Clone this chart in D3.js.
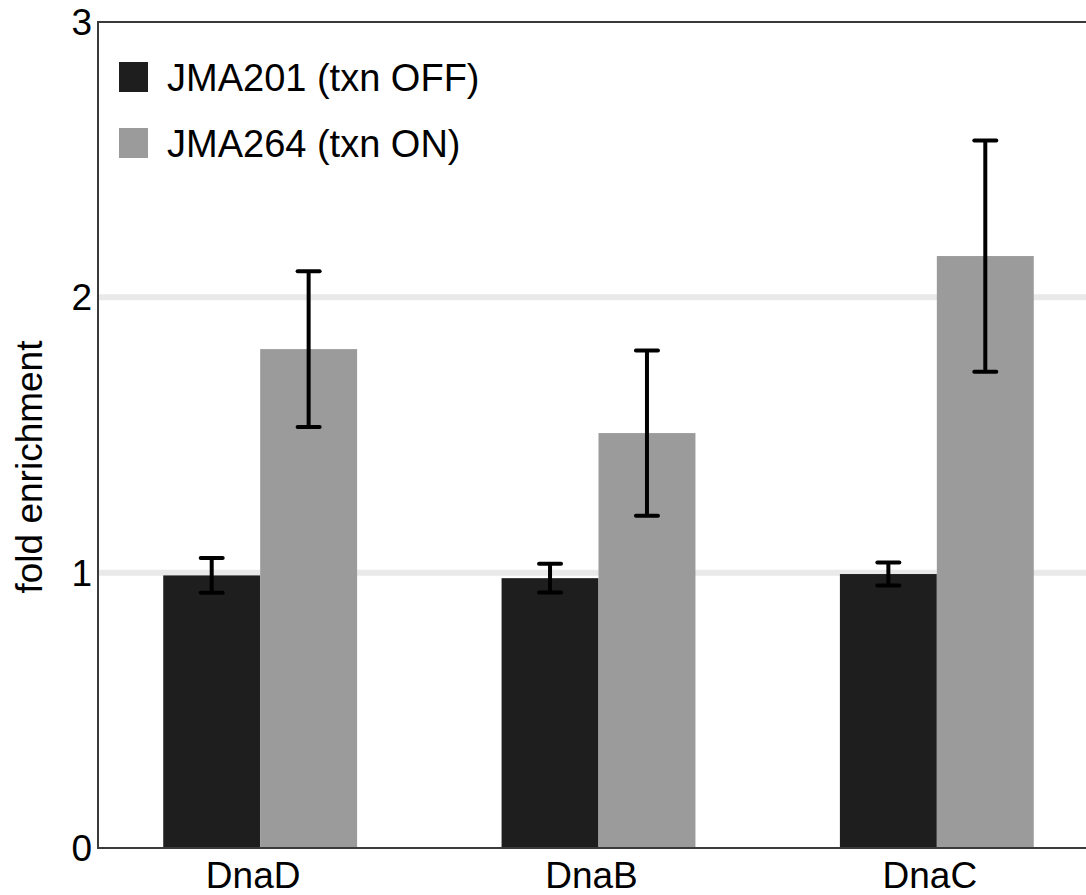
<!DOCTYPE html>
<html>
<head>
<meta charset="utf-8">
<script src="https://cdn.jsdelivr.net/npm/d3@7"></script>
<style>
  body { margin: 0; background: #fff; }
  svg text { font-family: "Liberation Sans", Arial, sans-serif; fill: #000; }
</style>
</head>
<body>
<svg width="1086" height="895"></svg>
<script>
// data
var categories = ['DnaD', 'DnaB', 'DnaC'];
var seriesNames = ['JMA201 (txn OFF)', 'JMA264 (txn ON)'];
var offValues = [0.99, 0.98, 0.995];
var offErrors = [0.063, 0.052, 0.042];
var onValues = [1.812, 1.507, 2.15];
var onErrors = [0.283, 0.30, 0.42];
var yTicks = [0, 1, 2, 3];
var gridValues = [1, 2];

var svg = d3.select('svg'),
  width = +svg.attr('width'),
  height = +svg.attr('height');

// note: "top" is taken by window.top, so use other names
var plotLeft = 98, plotTop = 22, plotBottom = 848;

var colors = ['#1e1e1e', '#9b9b9b'];

var y = d3.scaleLinear().domain([0, 3]).range([plotBottom, plotTop]);

var x = d3.scaleBand()
  .domain(categories)
  .range([91, 1106])
  .paddingInner(0.427)
  .paddingOuter(0.2135);

var xs = d3.scaleBand()
  .domain(seriesNames)
  .range([0, x.bandwidth()]);

var rows = categories.map((c, i) => ({
  cat: c,
  bars: [
    {name: seriesNames[0], value: offValues[i], err: offErrors[i], color: colors[0]},
    {name: seriesNames[1], value: onValues[i], err: onErrors[i], color: colors[1]}
  ]
}));

// grid lines
svg.append('g').selectAll('line')
  .data(gridValues)
  .enter()
  .append('line')
  .attr('x1', plotLeft)
  .attr('x2', width)
  .attr('y1', d => y(d))
  .attr('y2', d => y(d))
  .attr('stroke', '#e9e9e9')
  .attr('stroke-width', 6);

// bars
var groups = svg.selectAll('.grp')
  .data(rows)
  .enter()
  .append('g')
  .attr('class', 'grp')
  .attr('transform', d => `translate(${x(d.cat)},0)`);

groups.selectAll('rect')
  .data(d => d.bars)
  .enter()
  .append('rect')
  .attr('x', d => xs(d.name))
  .attr('y', d => y(d.value))
  .attr('width', xs.bandwidth())
  .attr('height', d => y(0) - y(d.value))
  .attr('fill', d => d.color);

// error bars
var errs = groups.selectAll('.err')
  .data(d => d.bars)
  .enter()
  .append('g')
  .attr('class', 'err')
  .attr('stroke', '#000')
  .attr('stroke-width', 4);

errs.append('line')
  .attr('x1', d => xs(d.name) + xs.bandwidth() / 2)
  .attr('x2', d => xs(d.name) + xs.bandwidth() / 2)
  .attr('y1', d => y(d.value + d.err))
  .attr('y2', d => y(d.value - d.err));

[1, -1].forEach(s => {
  errs.append('line')
    .attr('stroke-linecap', 'round')
    .attr('x1', d => xs(d.name) + xs.bandwidth() / 2 - 11)
    .attr('x2', d => xs(d.name) + xs.bandwidth() / 2 + 11)
    .attr('y1', d => y(d.value + s * d.err))
    .attr('y2', d => y(d.value + s * d.err));
});

// frame: left, top, bottom
svg.append('path')
  .attr('d', `M${width},${plotTop}H${plotLeft}V${plotBottom}H${width}`)
  .attr('fill', 'none')
  .attr('stroke', '#3a3a3a')
  .attr('stroke-width', 2);

// y tick labels
svg.append('g').selectAll('text')
  .data(yTicks)
  .enter()
  .append('text')
  .attr('x', 92)
  .attr('y', d => y(d))
  .attr('dy', '0.35em')
  .attr('text-anchor', 'end')
  .style('font-size', '37px')
  .text(d => d);

// x labels
svg.append('g').selectAll('text')
  .data(categories)
  .enter()
  .append('text')
  .attr('x', d => x(d) + x.bandwidth() / 2 - 7)
  .attr('y', 888)
  .attr('text-anchor', 'middle')
  .style('font-size', '37px')
  .text(d => d);

// y axis title
svg.append('text')
  .attr('transform', 'translate(42,467) rotate(-90)')
  .attr('text-anchor', 'middle')
  .style('font-size', '37px')
  .text('fold enrichment');

// legend
var legend = svg.append('g').selectAll('g')
  .data(seriesNames)
  .enter()
  .append('g')
  .attr('transform', (d, i) => `translate(119, ${62 + i * 66})`);

legend.append('rect')
  .attr('width', 29)
  .attr('height', 30)
  .attr('fill', (d, i) => colors[i]);

legend.append('text')
  .attr('x', 48)
  .attr('y', 29)
  .style('font-size', '38px')
  .text(d => d);
</script>
</body>
</html>
